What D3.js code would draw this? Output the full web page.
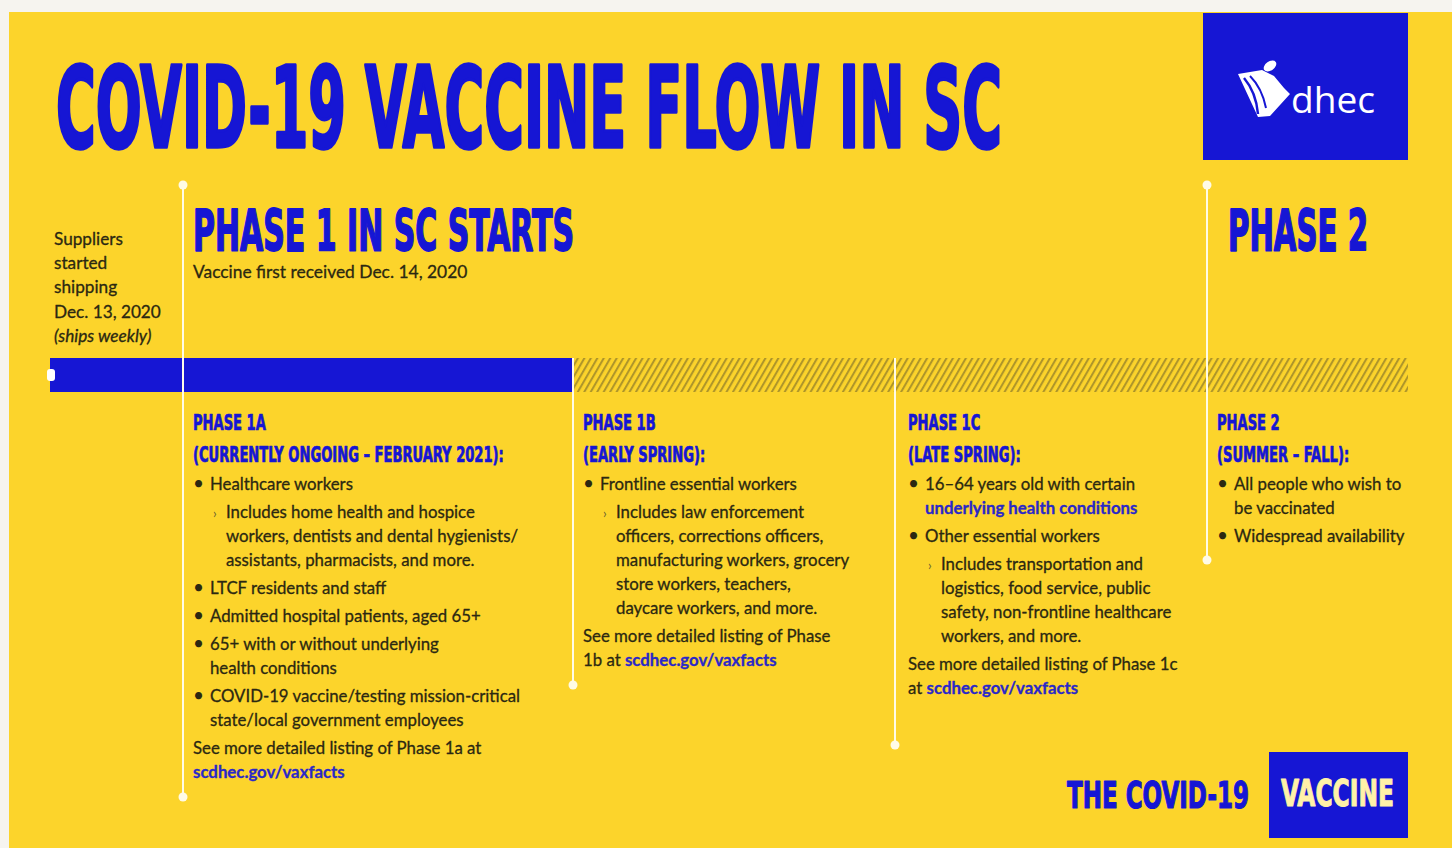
<!DOCTYPE html>
<html>
<head>
<meta charset="utf-8">
<script src="https://cdn.jsdelivr.net/npm/d3@7"></script>
<style>
  html, body { margin: 0; padding: 0; background: #f6f4ef; }
  svg { display: block; }
</style>
</head>
<body>
<div class="canvas"></div>
<script>
// ---- data ----
const stages = ['shipping', 'phase1a', 'phase1b', 'phase1c', 'phase2'];
const stageStatus = ['shipped', 'shipped', 'upcoming', 'upcoming', 'upcoming'];

const supplierNote = ['Suppliers', 'started', 'shipping', 'Dec. 13, 2020', '(ships weekly)'];

const milestoneStages = ['phase1a', 'phase2'];
const milestoneTitles = ['PHASE 1 IN SC STARTS', 'PHASE 2'];
const milestoneNotes = ['Vaccine first received Dec. 14, 2020', ''];

const phaseStages = ['phase1a', 'phase1b', 'phase1c', 'phase2'];
const phaseTitles = ['PHASE 1A', 'PHASE 1B', 'PHASE 1C', 'PHASE 2'];
const phasePeriods = ['(CURRENTLY ONGOING – FEBRUARY 2021):', '(EARLY SPRING):', '(LATE SPRING):', '(SUMMER – FALL):'];

// [kind, text, link text]
const phaseItems = [
  [
    ['bullet', 'Healthcare workers'],
    ['sub', 'Includes home health and hospice'],
    ['subcont', 'workers, dentists and dental hygienists/'],
    ['subcont', 'assistants, pharmacists, and more.'],
    ['bullet', 'LTCF residents and staff'],
    ['bullet', 'Admitted hospital patients, aged 65+'],
    ['bullet', '65+ with or without underlying'],
    ['cont', 'health conditions'],
    ['bullet', 'COVID-19 vaccine/testing mission-critical'],
    ['cont', 'state/local government employees'],
    ['note', 'See more detailed listing of Phase 1a at'],
    ['notecont', '', 'scdhec.gov/vaxfacts']
  ],
  [
    ['bullet', 'Frontline essential workers'],
    ['sub', 'Includes law enforcement'],
    ['subcont', 'officers, corrections officers,'],
    ['subcont', 'manufacturing workers, grocery'],
    ['subcont', 'store workers, teachers,'],
    ['subcont', 'daycare workers, and more.'],
    ['note', 'See more detailed listing of Phase'],
    ['notecont', '1b at ', 'scdhec.gov/vaxfacts']
  ],
  [
    ['bullet', '16–64 years old with certain'],
    ['cont', '', 'underlying health conditions'],
    ['bullet', 'Other essential workers'],
    ['sub', 'Includes transportation and'],
    ['subcont', 'logistics, food service, public'],
    ['subcont', 'safety, non-frontline healthcare'],
    ['subcont', 'workers, and more.'],
    ['note', 'See more detailed listing of Phase 1c'],
    ['notecont', 'at ', 'scdhec.gov/vaxfacts']
  ],
  [
    ['bullet', 'All people who wish to'],
    ['cont', 'be vaccinated'],
    ['bullet', 'Widespread availability']
  ]
];

const footerWords = ['THE COVID-19', 'VACCINE'];

// ---- layout ----
const width = 1452, height = 848;
const yellow = '#fcd42b', blue = '#1616d4', ink = '#2b2812', link = '#2a28c8';
const headFont = "'DejaVu Sans Condensed', 'DejaVu Sans', sans-serif";
const bodyFont = "Lato, 'Open Sans', sans-serif";

const x = d3.scaleOrdinal().domain(stages).range([50, 183, 573, 895, 1207]);
const timelineEnd = 1408;
const bar = { y: 358, h: 34 };
const lineBottom = { phase1a: 797, phase1b: 685, phase1c: 745, phase2: 560 };
const indent = { bullet: 17, cont: 17, sub: 33, subcont: 33, note: 0, notecont: 0 };

const svg = d3.select('.canvas')
  .append('svg')
  .attr('width', width)
  .attr('height', height);

const fit = (sel, w) => sel.attr('textLength', w).attr('lengthAdjust', 'spacingAndGlyphs');
const squeeze = (sel, k) => sel.each(function() {
  d3.select(this).attr('textLength', this.getComputedTextLength() * k).attr('lengthAdjust', 'spacingAndGlyphs');
});
// heavier strokes for the poster type
const heavy = (sel, w, c) => sel.attr('stroke', c || blue).attr('stroke-width', w).attr('stroke-linejoin', 'round');

// hatch for upcoming phases
const defs = svg.append('defs');
defs.append('pattern')
  .attr('id', 'hatch')
  .attr('patternUnits', 'userSpaceOnUse')
  .attr('width', 5.6).attr('height', 10)
  .attr('patternTransform', 'rotate(30)')
  .append('line')
    .attr('x1', 2).attr('x2', 2).attr('y1', 0).attr('y2', 10)
    .attr('stroke', 'rgba(105,92,40,0.55)')
    .attr('stroke-width', 2);

// card
svg.append('rect')
  .attr('x', 9).attr('y', 12)
  .attr('width', width - 9).attr('height', height - 12)
  .attr('fill', yellow);

// title
svg.append('text')
  .attr('x', 56).attr('y', 147)
  .attr('font-family', headFont).attr('font-weight', 'bold')
  .attr('font-size', 112).attr('fill', blue)
  .call(heavy, 3.5)
  .text('COVID-19 VACCINE FLOW IN SC')
  .call(fit, 946);

// dhec logo
const logo = svg.append('g');
logo.append('rect')
  .attr('x', 1203).attr('y', 13).attr('width', 205).attr('height', 147)
  .attr('fill', blue);
logo.append('path')
  .attr('d', 'M1238,74 L1262,70 L1274,76 L1284,88 L1290,94 L1270,116 L1258,117 Z')
  .attr('fill', '#fff');
logo.append('path')
  .attr('d', 'M1244,78 Q1256,92 1258,114')
  .attr('stroke', blue).attr('stroke-width', 2.5).attr('fill', 'none');
logo.append('path')
  .attr('d', 'M1250,76 Q1262,88 1266,108')
  .attr('stroke', blue).attr('stroke-width', 2).attr('fill', 'none');
logo.append('ellipse')
  .attr('cx', 1270).attr('cy', 66).attr('rx', 7).attr('ry', 4.5)
  .attr('transform', 'rotate(-35,1270,66)')
  .attr('fill', '#fff');
logo.append('text')
  .attr('x', 1291).attr('y', 113)
  .attr('font-family', "'Open Sans', sans-serif")
  .attr('font-size', 36).attr('fill', '#fff')
  .text('dhec')
  .call(fit, 84);

// supplier note
svg.append('g').selectAll('text')
  .data(supplierNote)
  .join('text')
    .attr('x', 54)
    .attr('y', (d, i) => 245 + i * 24.2)
    .attr('font-family', bodyFont).attr('font-size', 17.2)
    .attr('font-style', (d, i) => i === supplierNote.length - 1 ? 'italic' : 'normal')
    .attr('fill', ink)
    .call(heavy, 0.3, ink)
    .text(d => d);

// timeline bar
const segments = stages.map((s, i) => ({
  stage: s,
  status: stageStatus[i],
  x0: x(s),
  x1: i < stages.length - 1 ? x(stages[i + 1]) : timelineEnd
}));

svg.append('g').selectAll('rect')
  .data(segments)
  .join('rect')
    .attr('x', d => d.x0)
    .attr('y', bar.y)
    .attr('width', d => d.x1 - d.x0)
    .attr('height', bar.h)
    .attr('fill', d => d.status === 'shipped' ? blue : 'url(#hatch)');

svg.append('rect')
  .attr('x', x('shipping') - 3).attr('y', bar.y + bar.h / 2 - 6)
  .attr('width', 8).attr('height', 12).attr('rx', 3)
  .attr('fill', '#fff');

// vertical connectors
const connectors = phaseStages.map(s => ({
  x: x(s),
  y0: milestoneStages.includes(s) ? 185 : bar.y,
  y1: lineBottom[s],
  topDot: milestoneStages.includes(s)
}));

const conG = svg.append('g');
conG.selectAll('line')
  .data(connectors)
  .join('line')
    .attr('x1', d => d.x).attr('x2', d => d.x)
    .attr('y1', d => d.y0).attr('y2', d => d.y1)
    .attr('stroke', '#fffbe6').attr('stroke-width', 2);

const dots = [];
connectors.forEach(d => {
  if (d.topDot) dots.push({ x: d.x, y: d.y0 });
  dots.push({ x: d.x, y: d.y1 });
});
conG.selectAll('circle')
  .data(dots)
  .join('circle')
    .attr('cx', d => d.x).attr('cy', d => d.y)
    .attr('r', 4.5)
    .attr('fill', '#fffbe6');

// milestones
const ms = svg.append('g').selectAll('g')
  .data(milestoneStages)
  .join('g')
    .attr('transform', (d, i) => `translate(${x(d) + (i === 0 ? 10 : 21)},0)`);

ms.append('text')
  .attr('y', 251)
  .attr('font-family', headFont).attr('font-weight', 'bold')
  .attr('font-size', 57).attr('fill', blue)
  .call(heavy, 1.8)
  .text((d, i) => milestoneTitles[i])
  .each(function(d, i) { fit(d3.select(this), [381, 140][i]); });

ms.append('text')
  .attr('y', 278)
  .attr('font-family', bodyFont).attr('font-size', 17.4)
  .attr('fill', ink)
  .call(heavy, 0.3, ink)
  .text((d, i) => milestoneNotes[i]);

// phase columns
const cols = svg.append('g').selectAll('g')
  .data(phaseStages)
  .join('g')
    .attr('transform', (d, i) => `translate(${x(d) + (i === 2 ? 13 : 10)},0)`);

cols.append('text')
  .attr('y', 430)
  .attr('font-family', headFont).attr('font-weight', 'bold')
  .attr('font-size', 20.5).attr('fill', blue)
  .call(heavy, 0.7)
  .text((d, i) => phaseTitles[i])
  .call(squeeze, 0.71);

cols.append('text')
  .attr('y', 462)
  .attr('font-family', headFont).attr('font-weight', 'bold')
  .attr('font-size', 20.5).attr('fill', blue)
  .call(heavy, 0.7)
  .text((d, i) => phasePeriods[i])
  .call(squeeze, 0.71);

cols.each(function(d, ci) {
  const g = d3.select(this);
  let y = 490;
  const lines = phaseItems[ci].map((item, li) => {
    if (li > 0) y += item[0].endsWith('cont') ? 24 : 28;
    return { kind: item[0], text: item[1], link: item[2], y };
  });

  const t = g.selectAll('text.line')
    .data(lines)
    .join('text')
      .attr('class', 'line')
      .attr('x', l => indent[l.kind])
      .attr('y', l => l.y)
      .attr('font-family', bodyFont).attr('font-size', 16.8)
      .attr('fill', ink)
      .call(heavy, 0.3, ink);
  t.append('tspan').text(l => l.text);
  t.filter(l => l.link).append('tspan')
    .attr('fill', link).attr('stroke', link).attr('font-weight', 'bold')
    .text(l => l.link);

  g.selectAll('text.marker')
    .data(lines.filter(l => l.kind === 'bullet' || l.kind === 'sub'))
    .join('text')
      .attr('class', 'marker')
      .attr('x', l => l.kind === 'bullet' ? 0 : 20)
      .attr('y', l => l.y)
      .attr('font-family', bodyFont)
      .attr('font-size', l => l.kind === 'bullet' ? 19 : 13)
      .attr('fill', l => l.kind === 'bullet' ? ink : '#6b6230')
      .text(l => l.kind === 'bullet' ? '•' : '›');
});

// footer
svg.append('text')
  .attr('x', 1067).attr('y', 808)
  .attr('font-family', headFont).attr('font-weight', 'bold')
  .attr('font-size', 38).attr('fill', blue)
  .call(heavy, 1.2)
  .text(footerWords[0])
  .call(fit, 182);

svg.append('rect')
  .attr('x', 1269).attr('y', 752).attr('width', 139).attr('height', 86)
  .attr('fill', blue);

svg.append('text')
  .attr('x', 1281).attr('y', 806)
  .attr('font-family', headFont).attr('font-weight', 'bold')
  .attr('font-size', 37).attr('fill', '#fff1a8')
  .call(heavy, 1, '#fff1a8')
  .text(footerWords[1])
  .call(fit, 113);
</script>
</body>
</html>
